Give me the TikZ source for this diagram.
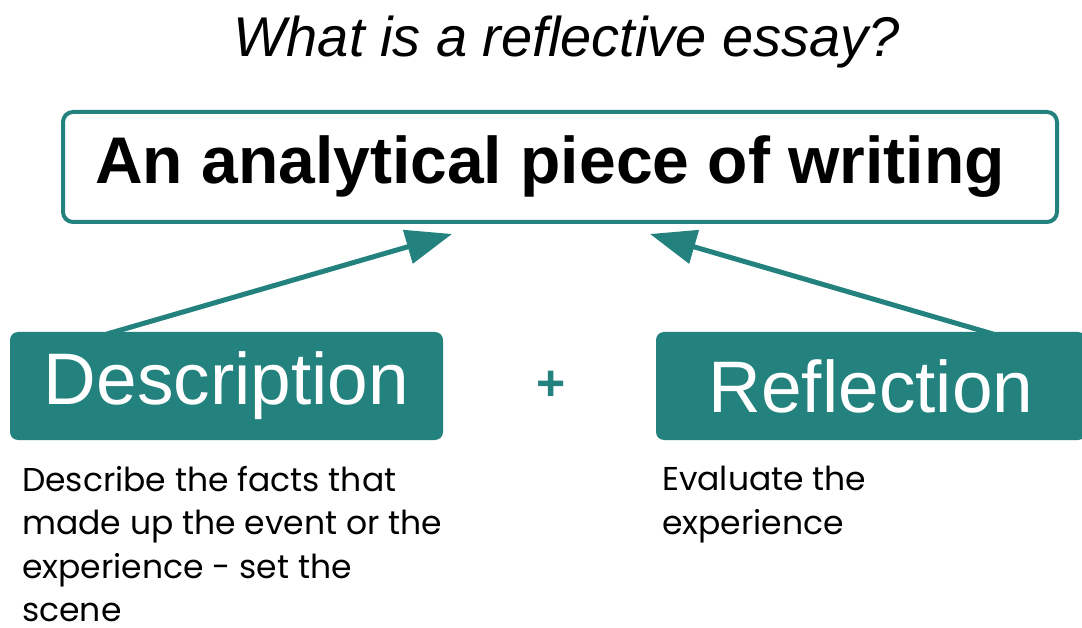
\documentclass[tikz,border=0pt]{standalone}
\usepackage{fontspec}
\setmainfont{Liberation Sans}
\newfontfamily\bodyfont{Poppins}
\usepackage{tikz}
\usetikzlibrary{arrows.meta}
\definecolor{essayteal}{RGB}{35,130,126}
\tikzset{ main_box/.style = {rectangle, rounded corners=10pt, draw=essayteal, line width=4pt, fill=white, minimum width=994pt, minimum height=110pt} }
\tikzset{ part_box/.style = {rectangle, rounded corners=8pt, fill=essayteal, text=white, minimum height=108pt, font=\fontsize{73}{75}\selectfont} }
\tikzset{ part_text/.style = {anchor=north west, align=left, inner sep=0pt, font=\bodyfont\fontsize{33}{43.5}\selectfont} }
\tikzset{ link/.style = {draw=essayteal, line width=5pt, -{Triangle[length=46pt, width=34pt]}} }

\begin{document}
\begin{tikzpicture}[x=1pt, y=-1pt]
            \useasboundingbox (0,0) rectangle (1082,628);
            \clip (0,0) rectangle (1082,628);
            \node (title) at (567, 42) {\fontsize{56}{58}\selectfont\itshape What is a reflective essay?};
            \node[main_box] (essay) at (560, 167) {};
            \node[font=\fontsize{66}{68}\selectfont\bfseries] (essay_txt) at (550, 167) {An analytical piece of writing};
            \node[part_box, minimum width=433pt] (desc) at (226.5, 386) {Description};
            \node[part_box, minimum width=430pt] (refl) at (871, 386) {Reflection};
            \node[text=essayteal, font=\fontsize{50}{52}\selectfont\bfseries] (plus) at (551, 386) {+};
            \node[part_text] (desc_txt) at (22, 466) {Describe the facts that\\made up the event or the\\experience - set the\\scene};
            \node[part_text] (refl_txt) at (662, 466) {Evaluate the\\experience};
            \coordinate (d_out) at (107, 334);
            \coordinate (d_in) at (452, 234);
            \coordinate (r_out) at (993, 334);
            \coordinate (r_in) at (650, 234);
            \draw[link] (d_out) to (d_in);
            \draw[link] (r_out) to (r_in);
        \end{tikzpicture}
\end{document}
